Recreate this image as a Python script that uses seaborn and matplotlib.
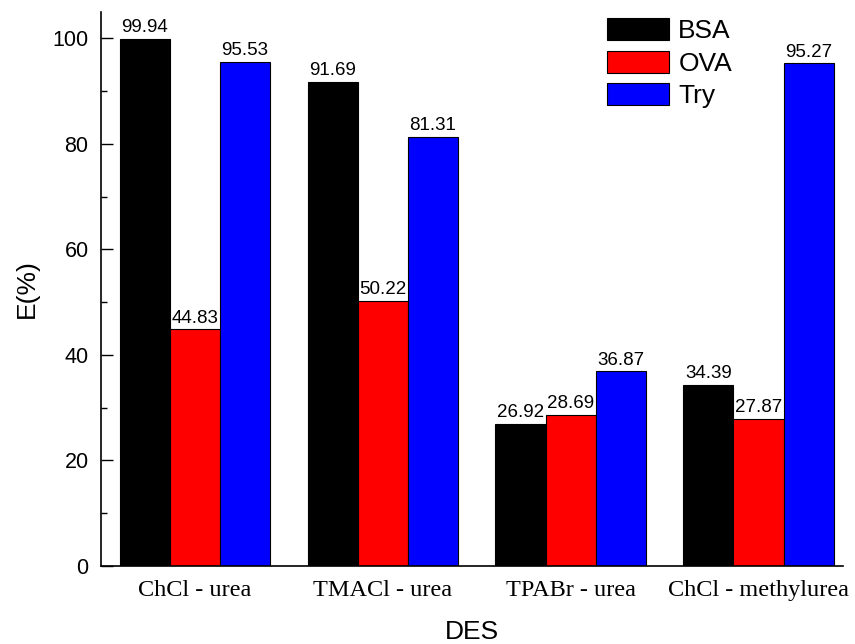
import pandas as pd
import matplotlib.pyplot as plt
import seaborn as sns
from matplotlib.ticker import MultipleLocator

# extraction efficiency values
des = ['ChCl - urea', 'TMACl - urea', 'TPABr - urea', 'ChCl - methylurea']
bsa = [99.94, 91.69, 26.92, 34.39]
ova = [44.83, 50.22, 28.69, 27.87]
tryp = [95.53, 81.31, 36.87, 95.27]
proteins = ['BSA', 'OVA', 'Try']
colors = ['black', 'red', 'blue']

rows = []
for p, vals in zip(proteins, [bsa, ova, tryp]):
    for d, v in zip(des, vals):
        rows.append({'DES': d, 'protein': p, 'E': v})
df = pd.DataFrame(rows)

sns.set_style('ticks')
plt.rcParams['font.family'] = ['Liberation Sans', 'DejaVu Sans']
plt.rcParams['text.color'] = 'black'
plt.rcParams['axes.labelcolor'] = 'black'
plt.rcParams['xtick.color'] = 'black'
plt.rcParams['ytick.color'] = 'black'
plt.rcParams['axes.edgecolor'] = 'black'

fig = plt.figure(figsize=(8.55, 6.44), dpi=100)
ax = fig.add_axes([101 / 855, 1 - 566 / 644, (843 - 101) / 855, (566 - 12) / 644])

sns.barplot(data=df, x='DES', y='E', hue='protein', order=des, hue_order=proteins,
            palette=colors, width=0.8, edgecolor='black', linewidth=0.8,
            saturation=1, errorbar=None, ax=ax)

for c in ax.containers:
    ax.bar_label(c, fmt='%.2f', padding=2, fontsize=13.5, color='black')

ax.set_xlim(-0.5, 3.45)
ax.set_ylim(0, 105)
ax.yaxis.set_major_locator(MultipleLocator(20))
ax.yaxis.set_minor_locator(MultipleLocator(10))
ax.tick_params(axis='y', which='major', direction='in', length=8.5, width=1, labelsize=15.5, pad=9)
ax.tick_params(axis='y', which='minor', direction='in', length=4.5, width=1)
ax.tick_params(axis='x', length=0, pad=10)
for lab in ax.get_xticklabels():
    lab.set_fontfamily('Liberation Serif')
    lab.set_fontsize(17.5)

ax.set_xlabel('DES', fontsize=19, labelpad=14)
ax.set_ylabel('E(%)', fontsize=19, labelpad=10)
sns.despine(ax=ax)
for s in ['left', 'bottom']:
    ax.spines[s].set_linewidth(1.2)

ax.legend(loc='upper left', bbox_to_anchor=(607 / 855, 1 - 18 / 644),
          bbox_transform=fig.transFigure, frameon=False, fontsize=19,
          handlelength=2.35, handleheight=0.92, handletextpad=0.35,
          labelspacing=0.28, borderpad=0, borderaxespad=0)

fig.savefig('out.png', dpi=100)
